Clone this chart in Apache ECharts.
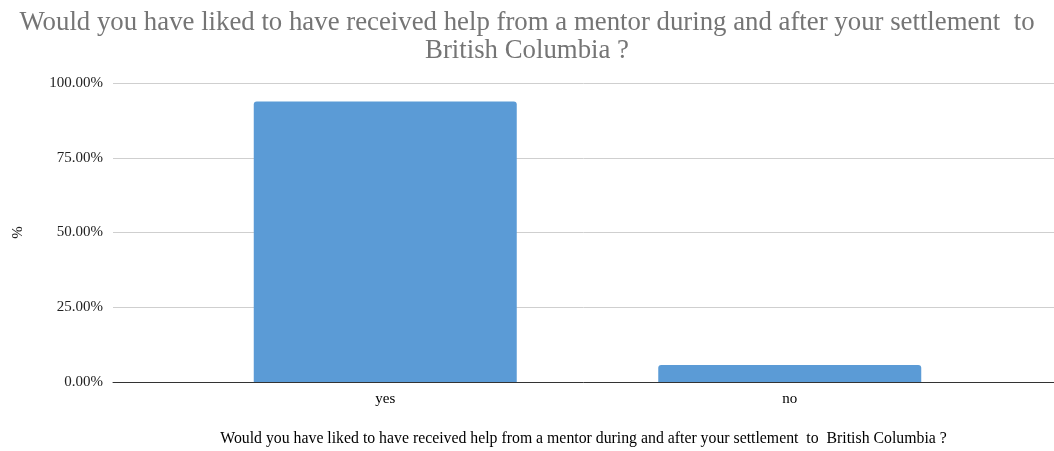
<!DOCTYPE html>
<html>
<head>
<meta charset="utf-8">
<script src="https://cdn.jsdelivr.net/npm/echarts@6/dist/echarts.min.js"></script>
<style>
  html, body { margin: 0; padding: 0; background: #fff; }
  #chart { width: 1054px; height: 451px; }
</style>
</head>
<body>
<div id="chart"></div>
<script>
const categories = ['yes', 'no'];
const percentValues = [93.8, 5.7];
const yTicks = [0, 25, 50, 75, 100];

const titleText = 'Would you have liked to have received help from a mentor during and after your settlement  to\nBritish Columbia ?';
const xAxisName = 'Would you have liked to have received help from a mentor during and after your settlement  to  British Columbia ?';

const serif = '"Liberation Serif", "DejaVu Serif", serif';

const chart = echarts.init(document.getElementById('chart'));
chart.setOption({
  animation: false,
  textStyle: { fontFamily: serif },
  title: {
    text: titleText,
    left: 'center',
    top: 4,
    textStyle: { fontFamily: serif, fontSize: 26.8, fontWeight: 'normal', color: '#757575', lineHeight: 28 }
  },
  grid: [
    // background grid: gridlines and y labels across the full width
    { left: 113, right: 0, top: 83, bottom: 69, outerBoundsMode: 'none', containLabel: false },
    // bar area
    { left: 183, right: 62, top: 83, bottom: 69, outerBoundsMode: 'none', containLabel: false }
  ],
  xAxis: [
    {
      type: 'value', gridIndex: 0, min: 0, max: 1,
      axisLine: { show: true, lineStyle: { color: '#333', width: 1 } },
      axisTick: { show: false }, axisLabel: { show: false }, splitLine: { show: false },
      name: xAxisName, nameLocation: 'middle', nameGap: 49,
      nameTextStyle: { fontFamily: serif, fontSize: 15.8, color: '#000' }
    },
    {
      type: 'category', gridIndex: 1, data: categories,
      axisLine: { show: false }, axisTick: { show: false },
      axisLabel: { fontFamily: serif, fontSize: 15, color: '#000', margin: 10 }
    }
  ],
  yAxis: [
    {
      type: 'value', gridIndex: 0, min: 0, max: 100, interval: 25,
      axisLine: { show: false }, axisTick: { show: false },
      splitLine: { lineStyle: { color: '#cfcfcf' } },
      axisLabel: {
        fontFamily: serif, fontSize: 15, color: '#222', margin: 10,
        formatter: v => yTicks.includes(v) ? v.toFixed(2) + '%' : ''
      },
      name: '%', nameLocation: 'middle', nameGap: 87, nameRotate: 90,
      nameTextStyle: { fontFamily: serif, fontSize: 15, color: '#222' }
    },
    {
      type: 'value', gridIndex: 1, min: 0, max: 100, interval: 25,
      show: false
    }
  ],
  series: [
    {
      type: 'bar', xAxisIndex: 1, yAxisIndex: 1,
      data: percentValues, barWidth: 263,
      itemStyle: { color: '#5b9bd6', borderRadius: [3, 3, 0, 0] },
      z: 1
    }
  ]
});
</script>
</body>
</html>
